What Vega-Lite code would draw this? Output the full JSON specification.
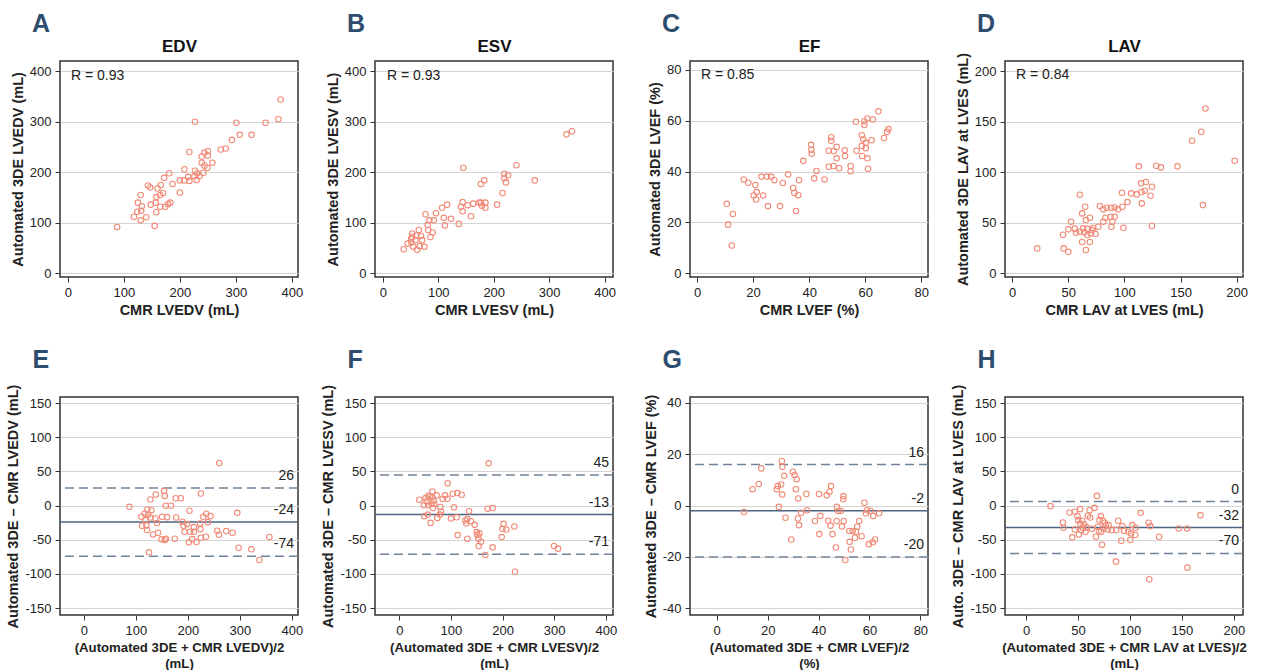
{
  "$schema": "https://vega.github.io/schema/vega-lite/v6.json",
  "padding": {"left": 5, "top": 11, "right": 5, "bottom": 0},
  "background": "white",
  "config": {
    "font": "Liberation Sans",
    "view": {"stroke": "#333333", "strokeWidth": 1.5},
    "axis": {
      "labelFontSize": 13, "labelColor": "#222222", "labelFont": "Liberation Sans",
      "titleFontSize": 14.5, "titleFontWeight": "bold", "titleColor": "#222222", "titleFont": "Liberation Sans",
      "tickColor": "#333333", "tickSize": 5, "domain": false,
      "gridColor": "#d4d4d4", "labelPadding": 4, "titleLineHeight": 16.5,
      "labelExpr": "'' + datum.value"
    },
    "axisX": {"grid": false},
    "axisY": {"grid": true},
    "title": {"font": "Liberation Sans", "fontSize": 25, "fontWeight": "bold", "color": "#2e4d6e", "anchor": "start", "frame": "group"}
  },
  "datasets": {
    "A": [
      {"x":88,"y":92},{"x":155,"y":94},{"x":118,"y":112},{"x":130,"y":105},{"x":140,"y":111},{"x":124,"y":122},{"x":131,"y":124},{"x":132,"y":133},{"x":125,"y":140},{"x":130,"y":155},{"x":143,"y":174},{"x":147,"y":170},{"x":148,"y":136},{"x":158,"y":121},{"x":157,"y":140},{"x":158,"y":151},{"x":160,"y":168},{"x":165,"y":155},{"x":166,"y":175},{"x":170,"y":159},{"x":165,"y":132},{"x":174,"y":132},{"x":179,"y":137},{"x":183,"y":140},{"x":172,"y":189},{"x":181,"y":198},{"x":187,"y":177},{"x":200,"y":160},{"x":200,"y":184},{"x":208,"y":206},{"x":208,"y":184},{"x":215,"y":191},{"x":217,"y":183},{"x":217,"y":240},{"x":227,"y":300},{"x":227,"y":203},{"x":226,"y":192},{"x":231,"y":198},{"x":230,"y":185},{"x":235,"y":192},{"x":242,"y":199},{"x":244,"y":239},{"x":239,"y":231},{"x":239,"y":219},{"x":244,"y":213},{"x":250,"y":233},{"x":250,"y":242},{"x":249,"y":209},{"x":258,"y":219},{"x":273,"y":245},{"x":282,"y":247},{"x":293,"y":264},{"x":301,"y":298},{"x":307,"y":274},{"x":328,"y":274},{"x":353,"y":298},{"x":376,"y":305},{"x":380,"y":344}
    ],
    "B": [
      {"x":37.7,"y":48},{"x":45,"y":59},{"x":51,"y":68},{"x":53,"y":79},{"x":53,"y":72},{"x":51.5,"y":61},{"x":55,"y":53},{"x":59,"y":66},{"x":60.5,"y":75},{"x":62,"y":47},{"x":65,"y":86},{"x":66.5,"y":54},{"x":69,"y":74},{"x":71,"y":66},{"x":75,"y":53},{"x":77,"y":117},{"x":81,"y":96},{"x":82,"y":86},{"x":84,"y":105},{"x":86,"y":72},{"x":90,"y":81},{"x":92,"y":105},{"x":96,"y":119},{"x":107,"y":130},{"x":110,"y":110},{"x":112,"y":95},{"x":116,"y":136},{"x":123,"y":108},{"x":137,"y":98},{"x":141,"y":132},{"x":144,"y":141},{"x":144,"y":123},{"x":145,"y":209},{"x":153,"y":135},{"x":159,"y":113},{"x":163,"y":138},{"x":174,"y":140},{"x":177,"y":177},{"x":177,"y":140},{"x":179,"y":134},{"x":183,"y":184},{"x":185,"y":140},{"x":185,"y":130},{"x":206,"y":136},{"x":216,"y":159},{"x":219,"y":197},{"x":219,"y":188},{"x":222,"y":180},{"x":226,"y":194},{"x":241,"y":214},{"x":274,"y":184},{"x":331,"y":275},{"x":341,"y":281}
    ],
    "C": [
      {"x":10.6,"y":27.3},{"x":11.1,"y":19.1},{"x":12.4,"y":10.9},{"x":12.8,"y":23.3},{"x":16.7,"y":36.9},{"x":18.3,"y":35.6},{"x":20.8,"y":34.7},{"x":20.2,"y":30.6},{"x":21.1,"y":29.0},{"x":21.3,"y":31.9},{"x":23.0,"y":38.0},{"x":23.6,"y":30.6},{"x":25.0,"y":38.0},{"x":25.3,"y":26.4},{"x":26.4,"y":38.0},{"x":27.6,"y":36.6},{"x":29.6,"y":26.4},{"x":30.6,"y":35.5},{"x":32.5,"y":38.9},{"x":34.3,"y":33.5},{"x":34.7,"y":31.6},{"x":35.3,"y":24.5},{"x":36.1,"y":30.7},{"x":36.4,"y":36.6},{"x":37.9,"y":44.2},{"x":40.7,"y":50.5},{"x":40.8,"y":48.6},{"x":40.9,"y":47.0},{"x":41.8,"y":37.3},{"x":42.6,"y":40.2},{"x":45.5,"y":36.9},{"x":47.0,"y":41.9},{"x":47.0,"y":48.2},{"x":47.9,"y":53.5},{"x":47.9,"y":52.1},{"x":48.7,"y":42.2},{"x":48.8,"y":48.1},{"x":49.8,"y":49.7},{"x":49.8,"y":45.2},{"x":50.7,"y":41.3},{"x":52.7,"y":48.4},{"x":52.8,"y":46.1},{"x":54.8,"y":42.2},{"x":54.8,"y":40.1},{"x":56.7,"y":59.6},{"x":56.9,"y":48.2},{"x":58.8,"y":54.3},{"x":58.8,"y":50.1},{"x":58.9,"y":46.1},{"x":59.3,"y":52.7},{"x":59.7,"y":59.8},{"x":59.7,"y":58.3},{"x":60.2,"y":51.3},{"x":60.2,"y":49.2},{"x":60.8,"y":60.9},{"x":60.8,"y":45.2},{"x":61.0,"y":41.1},{"x":62.3,"y":52.3},{"x":62.7,"y":60.5},{"x":64.7,"y":63.7},{"x":66.7,"y":53.2},{"x":67.8,"y":55.6},{"x":68.3,"y":56.7}
    ],
    "D": [
      {"x":22.4,"y":24.7},{"x":45.4,"y":38.2},{"x":45.9,"y":24.7},{"x":50.1,"y":21.4},{"x":50.1,"y":43.5},{"x":52.5,"y":51.1},{"x":55.8,"y":44.2},{"x":57.0,"y":40.2},{"x":60.3,"y":77.8},{"x":60.3,"y":41.2},{"x":62.4,"y":59.3},{"x":62.4,"y":31.0},{"x":63.3,"y":44.5},{"x":64.2,"y":40.5},{"x":65.1,"y":65.9},{"x":65.7,"y":52.7},{"x":65.7,"y":23.1},{"x":66.9,"y":44.2},{"x":66.9,"y":37.9},{"x":69.3,"y":55.0},{"x":69.3,"y":31.0},{"x":70.1,"y":39.5},{"x":71.3,"y":42.8},{"x":72.2,"y":45.1},{"x":74.3,"y":38.9},{"x":76.7,"y":46.1},{"x":78.2,"y":66.6},{"x":81.2,"y":63.3},{"x":81.2,"y":51.1},{"x":83.0,"y":55.0},{"x":84.2,"y":64.9},{"x":87.8,"y":56.0},{"x":88.1,"y":64.9},{"x":88.4,"y":46.1},{"x":89.3,"y":51.1},{"x":91.3,"y":65.2},{"x":91.3,"y":56.0},{"x":94.3,"y":63.3},{"x":97.9,"y":79.7},{"x":98.2,"y":65.9},{"x":99.1,"y":45.1},{"x":102.7,"y":70.5},{"x":106.0,"y":79.1},{"x":111.0,"y":78.1},{"x":112.8,"y":105.8},{"x":114.9,"y":89.0},{"x":115.2,"y":80.4},{"x":115.5,"y":69.2},{"x":119.1,"y":90.3},{"x":118.2,"y":81.7},{"x":123.3,"y":76.8},{"x":124.5,"y":85.7},{"x":124.5,"y":46.8},{"x":128.4,"y":106.4},{"x":132.5,"y":104.8},{"x":147.2,"y":105.8},{"x":160.3,"y":131.1},{"x":168.4,"y":140.0},{"x":169.9,"y":67.5},{"x":172.2,"y":163.1},{"x":198.2,"y":111.4}
    ],
    "E": [
      {"x":87.5,"y":-1.7},{"x":110.6,"y":-16.3},{"x":111.9,"y":-29.4},{"x":117,"y":-11.4},{"x":118.3,"y":-21.1},{"x":120.3,"y":-28.9},{"x":121.5,"y":-35.7},{"x":122.2,"y":-5.6},{"x":123.5,"y":-13.4},{"x":125.4,"y":-68.3},{"x":128,"y":9},{"x":128,"y":-17.3},{"x":129.9,"y":-6.6},{"x":133.1,"y":-42.1},{"x":137.6,"y":-18.7},{"x":138.3,"y":16.3},{"x":140.8,"y":-25.5},{"x":142.8,"y":-39.6},{"x":149.2,"y":-49.3},{"x":150.5,"y":-16.3},{"x":154.3,"y":21.6},{"x":155.6,"y":14.3},{"x":155.6,"y":-50.3},{"x":157.6,"y":-0.2},{"x":157.6,"y":-48.4},{"x":160.1,"y":-16.8},{"x":167.8,"y":-0.2},{"x":174.9,"y":-48.4},{"x":176.8,"y":10.9},{"x":177.5,"y":-17.3},{"x":186.5,"y":10.9},{"x":189.7,"y":-23.6},{"x":191.6,"y":-29.4},{"x":193.6,"y":-38.2},{"x":198.7,"y":-27},{"x":201.9,"y":-53.7},{"x":203.2,"y":-7.5},{"x":204.5,"y":-38.2},{"x":208.4,"y":-48.9},{"x":211.6,"y":-31.4},{"x":211.6,"y":-38.2},{"x":216.7,"y":-53.2},{"x":223.8,"y":-26},{"x":224.4,"y":-34.3},{"x":225.1,"y":17.7},{"x":225.1,"y":-46.9},{"x":229.6,"y":-16.3},{"x":234.7,"y":-45.5},{"x":235.4,"y":-11.9},{"x":238.6,"y":-24.1},{"x":243.7,"y":-15.3},{"x":256.6,"y":-36.7},{"x":259.8,"y":-42.5},{"x":260.5,"y":62.5},{"x":273.9,"y":-37.2},{"x":286.2,"y":-39.6},{"x":295.2,"y":-10.5},{"x":297.7,"y":-61.5},{"x":322.2,"y":-63.9},{"x":337.6,"y":-79.5},{"x":356.9,"y":-45.9}
    ],
    "F": [
      {"x":38.8,"y":8.7},{"x":47.8,"y":0.5},{"x":48.5,"y":-15.5},{"x":51,"y":11.1},{"x":53,"y":6.3},{"x":55,"y":-13.1},{"x":56.2,"y":0.5},{"x":56.2,"y":14.5},{"x":59.5,"y":13.5},{"x":60.7,"y":-25.2},{"x":62.7,"y":2.9},{"x":64,"y":20.8},{"x":64,"y":12.6},{"x":65.3,"y":-3.4},{"x":66.6,"y":7.3},{"x":67.9,"y":2.4},{"x":72.4,"y":15},{"x":73.7,"y":-17.9},{"x":78.8,"y":-13.1},{"x":79.5,"y":-1.9},{"x":80.8,"y":-8.7},{"x":84,"y":10.2},{"x":88.5,"y":15},{"x":93.1,"y":10.2},{"x":93.7,"y":32.9},{"x":100.2,"y":-18.9},{"x":103.4,"y":17.4},{"x":106,"y":-2.4},{"x":111.1,"y":-16.9},{"x":112.4,"y":18.4},{"x":113.1,"y":-43.1},{"x":120.8,"y":16},{"x":128,"y":-21.8},{"x":129.9,"y":-26.1},{"x":131.8,"y":-48.4},{"x":131.8,"y":-19.4},{"x":135.1,"y":-8.2},{"x":139,"y":-22.7},{"x":146,"y":-28.1},{"x":149.9,"y":-38.7},{"x":151.2,"y":-43.1},{"x":153.2,"y":-48.4},{"x":153.8,"y":-59},{"x":155.1,"y":-40.6},{"x":158.3,"y":-52.7},{"x":166.7,"y":-72.1},{"x":171.2,"y":-4.4},{"x":173.2,"y":61.9},{"x":180.9,"y":-3.4},{"x":180.9,"y":-61},{"x":198.4,"y":-46},{"x":199.7,"y":-33.9},{"x":202.3,"y":-26.6},{"x":207.4,"y":-34.8},{"x":222.9,"y":-30.5},{"x":224.2,"y":-96.8},{"x":299.8,"y":-59},{"x":307.6,"y":-62.9}
    ],
    "G": [
      {"x":10.7,"y":-2.5},{"x":14.1,"y":6.4},{"x":16.5,"y":8.4},{"x":17.5,"y":14.5},{"x":23.6,"y":6.4},{"x":24,"y":7.6},{"x":24.4,"y":-0.5},{"x":25.3,"y":8.2},{"x":25.6,"y":17.4},{"x":25.7,"y":4.3},{"x":25.8,"y":15.1},{"x":26.5,"y":11.6},{"x":27,"y":-4.7},{"x":29.3,"y":-13.2},{"x":29.9,"y":13.2},{"x":30.6,"y":11.9},{"x":31.1,"y":6.4},{"x":31.4,"y":10.3},{"x":31.9,"y":-5},{"x":32,"y":2.8},{"x":32.3,"y":-7.6},{"x":33.1,"y":-2.8},{"x":35.2,"y":4.5},{"x":35.5,"y":-1.8},{"x":38.6,"y":-6},{"x":40.2,"y":4.5},{"x":40.3,"y":-11.1},{"x":40.7,"y":-4},{"x":43.2,"y":4},{"x":43.8,"y":-5.9},{"x":44.3,"y":5.4},{"x":44.7,"y":-7.8},{"x":44.9,"y":7.6},{"x":45.5,"y":-11.1},{"x":46.8,"y":-16.3},{"x":47.1,"y":-6},{"x":47.2,"y":-0.5},{"x":47.7,"y":-2.1},{"x":48.8,"y":-2.1},{"x":49.2,"y":-8.1},{"x":49.7,"y":2.5},{"x":49.8,"y":3.7},{"x":49.9,"y":-6},{"x":50.5,"y":-21.2},{"x":52.1,"y":-9.9},{"x":52.2,"y":-14.1},{"x":52.7,"y":-17.1},{"x":53.4,"y":-9.9},{"x":54.3,"y":-12.5},{"x":54.7,"y":-10.2},{"x":55.2,"y":-8.2},{"x":56,"y":-6},{"x":56.9,"y":-11.9},{"x":58,"y":1.1},{"x":58.6,"y":-3},{"x":59,"y":-1.8},{"x":59.8,"y":-15},{"x":60.4,"y":-2},{"x":61.3,"y":-14.3},{"x":61.5,"y":-4},{"x":62.2,"y":-13.2},{"x":63.8,"y":-3}
    ],
    "H": [
      {"x":23.5,"y":-0.7},{"x":35.4,"y":-24.6},{"x":36,"y":-32.3},{"x":41.8,"y":-10},{"x":44.4,"y":-46.4},{"x":46.9,"y":-9},{"x":46.9,"y":-34.8},{"x":49.5,"y":-15.3},{"x":50.2,"y":-21.2},{"x":50.8,"y":-42.1},{"x":52.1,"y":-5.1},{"x":52.1,"y":-26},{"x":53.1,"y":-35.7},{"x":54,"y":-22.1},{"x":54.7,"y":-32.3},{"x":55.9,"y":-27.5},{"x":57.2,"y":-38.2},{"x":58.2,"y":-31.8},{"x":59.5,"y":-14.8},{"x":61.1,"y":-6.6},{"x":61.7,"y":-17.3},{"x":63.3,"y":-33.8},{"x":65.9,"y":-3.2},{"x":67.2,"y":-45.5},{"x":68.2,"y":14.3},{"x":69.1,"y":-30.9},{"x":70.1,"y":-37.2},{"x":70.7,"y":-21.2},{"x":72,"y":-15.3},{"x":72.3,"y":-38.2},{"x":73,"y":-57.1},{"x":74,"y":-22.1},{"x":74.6,"y":-33.3},{"x":75.6,"y":-25},{"x":76.8,"y":-29.4},{"x":78.5,"y":-34.8},{"x":79.4,"y":-28.4},{"x":82.3,"y":-35.7},{"x":86.5,"y":-81.9},{"x":86.8,"y":-35.7},{"x":88.7,"y":-22.1},{"x":91.6,"y":-51.3},{"x":92.6,"y":-29.9},{"x":94.2,"y":-36.7},{"x":98.4,"y":-38.2},{"x":100.3,"y":-50.3},{"x":101,"y":-40.6},{"x":102.3,"y":-28.4},{"x":105.1,"y":-43},{"x":105.5,"y":-32.3},{"x":110.3,"y":-10.5},{"x":118,"y":-25},{"x":118.6,"y":-107.7},{"x":119.6,"y":-29.9},{"x":128,"y":-45.5},{"x":146.9,"y":-33.3},{"x":155,"y":-33.3},{"x":155.3,"y":-90.7},{"x":167.8,"y":-13.9}
    ],
    "Elines": [{"kind":"limit","value":26,"label":"26"},{"kind":"mean","value":-24,"label":"-24"},{"kind":"limit","value":-74,"label":"-74"}],
    "Flines": [{"kind":"limit","value":45,"label":"45"},{"kind":"mean","value":-13,"label":"-13"},{"kind":"limit","value":-71,"label":"-71"}],
    "Glines": [{"kind":"limit","value":16,"label":"16"},{"kind":"mean","value":-2,"label":"-2"},{"kind":"limit","value":-20,"label":"-20"}],
    "Hlines": [{"kind":"limit","value":6,"label":"0"},{"kind":"mean","value":-32,"label":"-32"},{"kind":"limit","value":-70,"label":"-70"}]
  },
  "columns": 4,
  "spacing": {"row": 120, "column": 77},
  "bounds": "flush",
  "concat": [
    {
      "width": 238, "height": 216,
      "title": {"text": "A", "dx": -28, "offset": 0},
      "resolve": {"axis": {"x": "independent"}},
      "layer": [
        {"data": {"name": "A"}, "mark": {"type": "point", "shape": "circle", "filled": false, "size": 30, "strokeWidth": 1.1, "color": "#f08a76", "opacity": 1},
         "encoding": {
           "x": {"field": "x", "type": "quantitative", "scale": {"domain": [-14, 411], "nice": false, "zero": false}, "axis": {"title": "CMR LVEDV (mL)", "values": [0,100,200,300,400]}},
           "y": {"field": "y", "type": "quantitative", "scale": {"domain": [-7, 420], "nice": false, "zero": false}, "axis": {"title": "Automated 3DE LVEDV (mL)", "values": [0,100,200,300,400]}}}},
        {"data": {"values": [{"label": "R = 0.93"}]}, "mark": {"type": "text", "align": "left", "baseline": "middle", "fontSize": 14, "color": "#222222"},
         "encoding": {
           "x": {"datum": 5.6, "type": "quantitative", "axis": {"orient": "top", "title": "EDV", "labels": false, "ticks": false, "grid": false, "titleFontSize": 17, "titleColor": "#111111", "titlePadding": 6}},
           "y": {"datum": 391, "type": "quantitative", "axis": {"title": "Automated 3DE LVEDV (mL)", "values": [0,100,200,300,400]}},
           "text": {"field": "label"}}}
      ]
    },
    {
      "width": 238, "height": 216,
      "title": {"text": "B", "dx": -28, "offset": 0},
      "resolve": {"axis": {"x": "independent"}},
      "layer": [
        {"data": {"name": "B"}, "mark": {"type": "point", "shape": "circle", "filled": false, "size": 30, "strokeWidth": 1.1, "color": "#f08a76", "opacity": 1},
         "encoding": {
           "x": {"field": "x", "type": "quantitative", "scale": {"domain": [-14, 415], "nice": false, "zero": false}, "axis": {"title": "CMR LVESV (mL)", "values": [0,100,200,300,400]}},
           "y": {"field": "y", "type": "quantitative", "scale": {"domain": [-7, 420], "nice": false, "zero": false}, "axis": {"title": "Automated 3DE LVESV (mL)", "values": [0,100,200,300,400]}}}},
        {"data": {"values": [{"label": "R = 0.93"}]}, "mark": {"type": "text", "align": "left", "baseline": "middle", "fontSize": 14, "color": "#222222"},
         "encoding": {
           "x": {"datum": 7.5, "type": "quantitative", "axis": {"orient": "top", "title": "ESV", "labels": false, "ticks": false, "grid": false, "titleFontSize": 17, "titleColor": "#111111", "titlePadding": 6}},
           "y": {"datum": 391, "type": "quantitative", "axis": {"title": "Automated 3DE LVESV (mL)", "values": [0,100,200,300,400]}},
           "text": {"field": "label"}}}
      ]
    },
    {
      "width": 238, "height": 216,
      "title": {"text": "C", "dx": -28, "offset": 0},
      "resolve": {"axis": {"x": "independent"}},
      "layer": [
        {"data": {"name": "C"}, "mark": {"type": "point", "shape": "circle", "filled": false, "size": 30, "strokeWidth": 1.1, "color": "#f08a76", "opacity": 1},
         "encoding": {
           "x": {"field": "x", "type": "quantitative", "scale": {"domain": [-2.5, 82.4], "nice": false, "zero": false}, "axis": {"title": "CMR LVEF (%)", "values": [0,20,40,60,80]}},
           "y": {"field": "y", "type": "quantitative", "scale": {"domain": [-1.5, 83.5], "nice": false, "zero": false}, "axis": {"title": "Automated 3DE LVEF (%)", "values": [0,20,40,60,80]}}}},
        {"data": {"values": [{"label": "R = 0.85"}]}, "mark": {"type": "text", "align": "left", "baseline": "middle", "fontSize": 14, "color": "#222222"},
         "encoding": {
           "x": {"datum": 1.4, "type": "quantitative", "axis": {"orient": "top", "title": "EF", "labels": false, "ticks": false, "grid": false, "titleFontSize": 17, "titleColor": "#111111", "titlePadding": 6}},
           "y": {"datum": 77.8, "type": "quantitative", "axis": {"title": "Automated 3DE LVEF (%)", "values": [0,20,40,60,80]}},
           "text": {"field": "label"}}}
      ]
    },
    {
      "width": 238, "height": 216,
      "title": {"text": "D", "dx": -28, "offset": 0},
      "resolve": {"axis": {"x": "independent"}},
      "layer": [
        {"data": {"name": "D"}, "mark": {"type": "point", "shape": "circle", "filled": false, "size": 30, "strokeWidth": 1.1, "color": "#f08a76", "opacity": 1},
         "encoding": {
           "x": {"field": "x", "type": "quantitative", "scale": {"domain": [-6.3, 205.6], "nice": false, "zero": false}, "axis": {"title": "CMR LAV at LVES (mL)", "values": [0,50,100,150,200]}},
           "y": {"field": "y", "type": "quantitative", "scale": {"domain": [-3.6, 210], "nice": false, "zero": false}, "axis": {"title": "Automated 3DE LAV at LVES (mL)", "values": [0,50,100,150,200]}}}},
        {"data": {"values": [{"label": "R = 0.84"}]}, "mark": {"type": "text", "align": "left", "baseline": "middle", "fontSize": 14, "color": "#222222"},
         "encoding": {
           "x": {"datum": 3.5, "type": "quantitative", "axis": {"orient": "top", "title": "LAV", "labels": false, "ticks": false, "grid": false, "titleFontSize": 17, "titleColor": "#111111", "titlePadding": 6}},
           "y": {"datum": 195.7, "type": "quantitative", "axis": {"title": "Automated 3DE LAV at LVES (mL)", "values": [0,50,100,150,200]}},
           "text": {"field": "label"}}}
      ]
    },
    {
      "width": 238, "height": 218,
      "resolve": {"axis": {"x": "independent"}},
      "layer": [
        {"data": {"name": "Elines"}, "mark": {"type": "rule", "strokeWidth": 1.5},
         "encoding": {
           "y": {"field": "value", "type": "quantitative", "axis": {"title": "Automated 3DE – CMR LVEDV (mL)", "values": [-150,-100,-50,0,50,100,150]}},
           "strokeDash": {"field": "kind", "type": "nominal", "scale": {"domain": ["mean", "limit"], "range": [[1, 0], [9, 5]]}, "legend": null},
           "color": {"field": "kind", "type": "nominal", "scale": {"domain": ["mean", "limit"], "range": ["#4b6482", "#6f849c"]}, "legend": null}}},
        {"data": {"name": "E"}, "mark": {"type": "point", "shape": "circle", "filled": false, "size": 30, "strokeWidth": 1.1, "color": "#f08a76", "opacity": 1},
         "encoding": {
           "x": {"field": "x", "type": "quantitative", "scale": {"domain": [-46, 412], "nice": false, "zero": false}, "axis": {"title": ["(Automated 3DE + CMR LVEDV)/2", "(mL)"], "values": [0,100,200,300,400], "titleFontSize": 13.2, "titlePadding": 4}},
           "y": {"field": "y", "type": "quantitative", "scale": {"domain": [-160, 159], "nice": false, "zero": false}, "axis": {"title": "Automated 3DE – CMR LVEDV (mL)", "values": [-150,-100,-50,0,50,100,150]}}}},
        {"data": {"name": "Elines"}, "mark": {"type": "text", "align": "right", "baseline": "bottom", "dx": -4, "dy": -5, "fontSize": 14, "color": "#222222"},
         "encoding": {
           "x": {"datum": 412, "type": "quantitative", "axis": {"orient": "top", "title": "E", "labels": false, "ticks": false, "grid": false, "titleX": -28, "titleY": -30, "titleAlign": "left", "titleBaseline": "alphabetic", "titleAngle": 0, "titleFontSize": 25, "titleColor": "#2e4d6e"}},
           "y": {"field": "value", "type": "quantitative", "axis": {"title": "Automated 3DE – CMR LVEDV (mL)", "values": [-150,-100,-50,0,50,100,150]}},
           "text": {"field": "label"}}}
      ]
    },
    {
      "width": 238, "height": 218,
      "resolve": {"axis": {"x": "independent"}},
      "layer": [
        {"data": {"name": "Flines"}, "mark": {"type": "rule", "strokeWidth": 1.5},
         "encoding": {
           "y": {"field": "value", "type": "quantitative", "axis": {"title": "Automated 3DE – CMR LVESV (mL)", "values": [-150,-100,-50,0,50,100,150]}},
           "strokeDash": {"field": "kind", "type": "nominal", "scale": {"domain": ["mean", "limit"], "range": [[1, 0], [9, 5]]}, "legend": null},
           "color": {"field": "kind", "type": "nominal", "scale": {"domain": ["mean", "limit"], "range": ["#4b6482", "#6f849c"]}, "legend": null}}},
        {"data": {"name": "F"}, "mark": {"type": "point", "shape": "circle", "filled": false, "size": 30, "strokeWidth": 1.1, "color": "#f08a76", "opacity": 1},
         "encoding": {
           "x": {"field": "x", "type": "quantitative", "scale": {"domain": [-47, 414], "nice": false, "zero": false}, "axis": {"title": ["(Automated 3DE + CMR LVESV)/2", "(mL)"], "values": [0,100,200,300,400], "titleFontSize": 13.2, "titlePadding": 4}},
           "y": {"field": "y", "type": "quantitative", "scale": {"domain": [-160, 159], "nice": false, "zero": false}, "axis": {"title": "Automated 3DE – CMR LVESV (mL)", "values": [-150,-100,-50,0,50,100,150]}}}},
        {"data": {"name": "Flines"}, "mark": {"type": "text", "align": "right", "baseline": "bottom", "dx": -4, "dy": -5, "fontSize": 14, "color": "#222222"},
         "encoding": {
           "x": {"datum": 414, "type": "quantitative", "axis": {"orient": "top", "title": "F", "labels": false, "ticks": false, "grid": false, "titleX": -28, "titleY": -30, "titleAlign": "left", "titleBaseline": "alphabetic", "titleAngle": 0, "titleFontSize": 25, "titleColor": "#2e4d6e"}},
           "y": {"field": "value", "type": "quantitative", "axis": {"title": "Automated 3DE – CMR LVESV (mL)", "values": [-150,-100,-50,0,50,100,150]}},
           "text": {"field": "label"}}}
      ]
    },
    {
      "width": 238, "height": 218,
      "resolve": {"axis": {"x": "independent"}},
      "layer": [
        {"data": {"name": "Glines"}, "mark": {"type": "rule", "strokeWidth": 1.5},
         "encoding": {
           "y": {"field": "value", "type": "quantitative", "axis": {"title": "Automated 3DE – CMR LVEF (%)", "values": [-40,-20,0,20,40]}},
           "strokeDash": {"field": "kind", "type": "nominal", "scale": {"domain": ["mean", "limit"], "range": [[1, 0], [9, 5]]}, "legend": null},
           "color": {"field": "kind", "type": "nominal", "scale": {"domain": ["mean", "limit"], "range": ["#4b6482", "#6f849c"]}, "legend": null}}},
        {"data": {"name": "G"}, "mark": {"type": "point", "shape": "circle", "filled": false, "size": 30, "strokeWidth": 1.1, "color": "#f08a76", "opacity": 1},
         "encoding": {
           "x": {"field": "x", "type": "quantitative", "scale": {"domain": [-10.5, 83], "nice": false, "zero": false}, "axis": {"title": ["(Automated 3DE + CMR LVEF)/2", "(%)"], "values": [0,20,40,60,80], "titleFontSize": 13.2, "titlePadding": 4}},
           "y": {"field": "y", "type": "quantitative", "scale": {"domain": [-42.6, 42.3], "nice": false, "zero": false}, "axis": {"title": "Automated 3DE – CMR LVEF (%)", "values": [-40,-20,0,20,40]}}}},
        {"data": {"name": "Glines"}, "mark": {"type": "text", "align": "right", "baseline": "bottom", "dx": -4, "dy": -5, "fontSize": 14, "color": "#222222"},
         "encoding": {
           "x": {"datum": 83, "type": "quantitative", "axis": {"orient": "top", "title": "G", "labels": false, "ticks": false, "grid": false, "titleX": -28, "titleY": -30, "titleAlign": "left", "titleBaseline": "alphabetic", "titleAngle": 0, "titleFontSize": 25, "titleColor": "#2e4d6e"}},
           "y": {"field": "value", "type": "quantitative", "axis": {"title": "Automated 3DE – CMR LVEF (%)", "values": [-40,-20,0,20,40]}},
           "text": {"field": "label"}}}
      ]
    },
    {
      "width": 238, "height": 218,
      "resolve": {"axis": {"x": "independent"}},
      "layer": [
        {"data": {"name": "Hlines"}, "mark": {"type": "rule", "strokeWidth": 1.5},
         "encoding": {
           "y": {"field": "value", "type": "quantitative", "axis": {"title": "Auto. 3DE – CMR LAV at LVES (mL)", "values": [-150,-100,-50,0,50,100,150]}},
           "strokeDash": {"field": "kind", "type": "nominal", "scale": {"domain": ["mean", "limit"], "range": [[1, 0], [9, 5]]}, "legend": null},
           "color": {"field": "kind", "type": "nominal", "scale": {"domain": ["mean", "limit"], "range": ["#4b6482", "#6f849c"]}, "legend": null}}},
        {"data": {"name": "H"}, "mark": {"type": "point", "shape": "circle", "filled": false, "size": 30, "strokeWidth": 1.1, "color": "#f08a76", "opacity": 1},
         "encoding": {
           "x": {"field": "x", "type": "quantitative", "scale": {"domain": [-20.3, 208.8], "nice": false, "zero": false}, "axis": {"title": ["(Automated 3DE + CMR LAV at LVES)/2", "(mL)"], "values": [0,50,100,150,200], "titleFontSize": 13.2, "titlePadding": 4}},
           "y": {"field": "y", "type": "quantitative", "scale": {"domain": [-160, 159], "nice": false, "zero": false}, "axis": {"title": "Auto. 3DE – CMR LAV at LVES (mL)", "values": [-150,-100,-50,0,50,100,150]}}}},
        {"data": {"name": "Hlines"}, "mark": {"type": "text", "align": "right", "baseline": "bottom", "dx": -4, "dy": -5, "fontSize": 14, "color": "#222222"},
         "encoding": {
           "x": {"datum": 208.8, "type": "quantitative", "axis": {"orient": "top", "title": "H", "labels": false, "ticks": false, "grid": false, "titleX": -28, "titleY": -30, "titleAlign": "left", "titleBaseline": "alphabetic", "titleAngle": 0, "titleFontSize": 25, "titleColor": "#2e4d6e"}},
           "y": {"field": "value", "type": "quantitative", "axis": {"title": "Auto. 3DE – CMR LAV at LVES (mL)", "values": [-150,-100,-50,0,50,100,150]}},
           "text": {"field": "label"}}}
      ]
    }
  ]
}
